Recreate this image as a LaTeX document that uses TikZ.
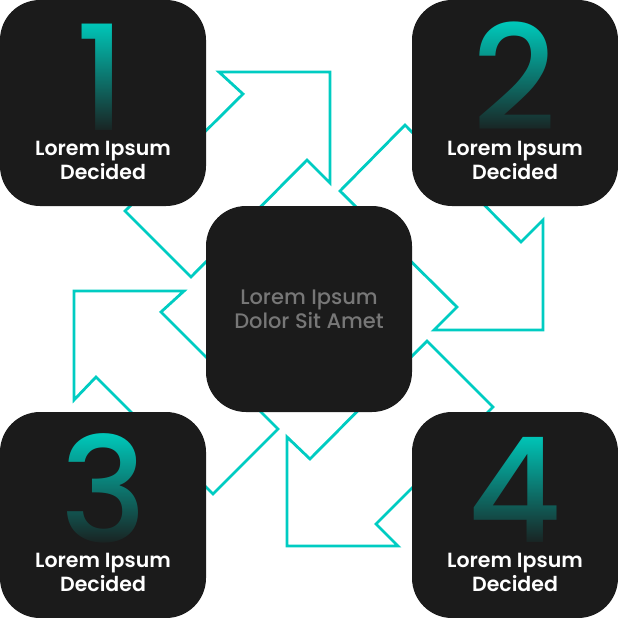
\documentclass[tikz,border=0pt]{standalone}
\usepackage{fontspec}
\setmainfont{Poppins}
\newfontfamily\labelfont{Poppins SemiBold}
\newfontfamily\hubfont{Poppins Medium}
\usetikzlibrary{fadings}
\definecolor{cardgray}{HTML}{1B1B1B}
\definecolor{flowteal}{HTML}{00CCC2}
\definecolor{digitteal}{HTML}{00C6B8}
\definecolor{hubgray}{HTML}{777777}
\tikzfading[name=digitfade, top color=transparent!100, bottom color=transparent!0]
\tikzset{card/.style={fill=cardgray, rounded corners=40pt, minimum size=206pt, inner sep=0pt}}
\tikzset{flow/.style={draw=flowteal, line width=2.8pt, line join=miter}}
\tikzset{numeral/.style={text=digitteal, font=\hubfont\fontsize{146}{146}\selectfont, inner sep=0pt, text depth=0pt, anchor=base}}
\tikzset{caption/.style={text=white, font=\labelfont\fontsize{20.5}{24}\selectfont, align=center, inner sep=0pt}}
\tikzset{fadebox/.style={fill=cardgray, path fading=digitfade}}

\begin{document}
\begin{tikzpicture}[x=1pt, y=-1pt]
  \useasboundingbox (0, 0) rectangle (618, 618);

  \draw [flow] (125, 211) -- (243, 94) -- (219, 72) -- (330, 72) -- (330, 183) -- (307, 160) -- (191, 277) -- cycle;
  \draw [flow] (405, 125) -- (521, 242) -- (543, 220) -- (543, 330) -- (434, 330) -- (457, 307) -- (340, 191) -- cycle;
  \draw [flow] (493, 407) -- (376, 524) -- (398, 546) -- (287, 546) -- (287, 437) -- (310, 459) -- (427, 341) -- cycle;
  \draw [flow] (213, 494) -- (96, 377) -- (74, 400) -- (74, 291) -- (184, 291) -- (161, 312) -- (278, 429) -- cycle;

  \node (box1) [card] at (103, 103) {};
  \node (box2) [card] at (515, 103) {};
  \node (box3) [card] at (103, 515) {};
  \node (box4) [card] at (515, 515) {};
  \node (hub) [card, text=hubgray, font=\hubfont\fontsize{21}{24}\selectfont, align=center] at (309, 309) {Lorem Ipsum\\Dolor Sit Amet};

  \node (num1) [numeral] at (101, 130) {1};
  \node (num2) [numeral] at (515, 130) {2};
  \node (num3) [numeral] at (104, 542) {3};
  \node (num4) [numeral] at (515, 542) {4};

  \fill [fadebox] (20, 24) rectangle (186, 136);
  \fill [fadebox] (432, 24) rectangle (598, 136);
  \fill [fadebox] (20, 436) rectangle (186, 548);
  \fill [fadebox] (432, 436) rectangle (598, 548);

  \node (cap1) [caption] at (103, 160) {Lorem Ipsum\\Decided};
  \node (cap2) [caption] at (515, 160) {Lorem Ipsum\\Decided};
  \node (cap3) [caption] at (103, 572) {Lorem Ipsum\\Decided};
  \node (cap4) [caption] at (515, 572) {Lorem Ipsum\\Decided};
\end{tikzpicture}
\end{document}
